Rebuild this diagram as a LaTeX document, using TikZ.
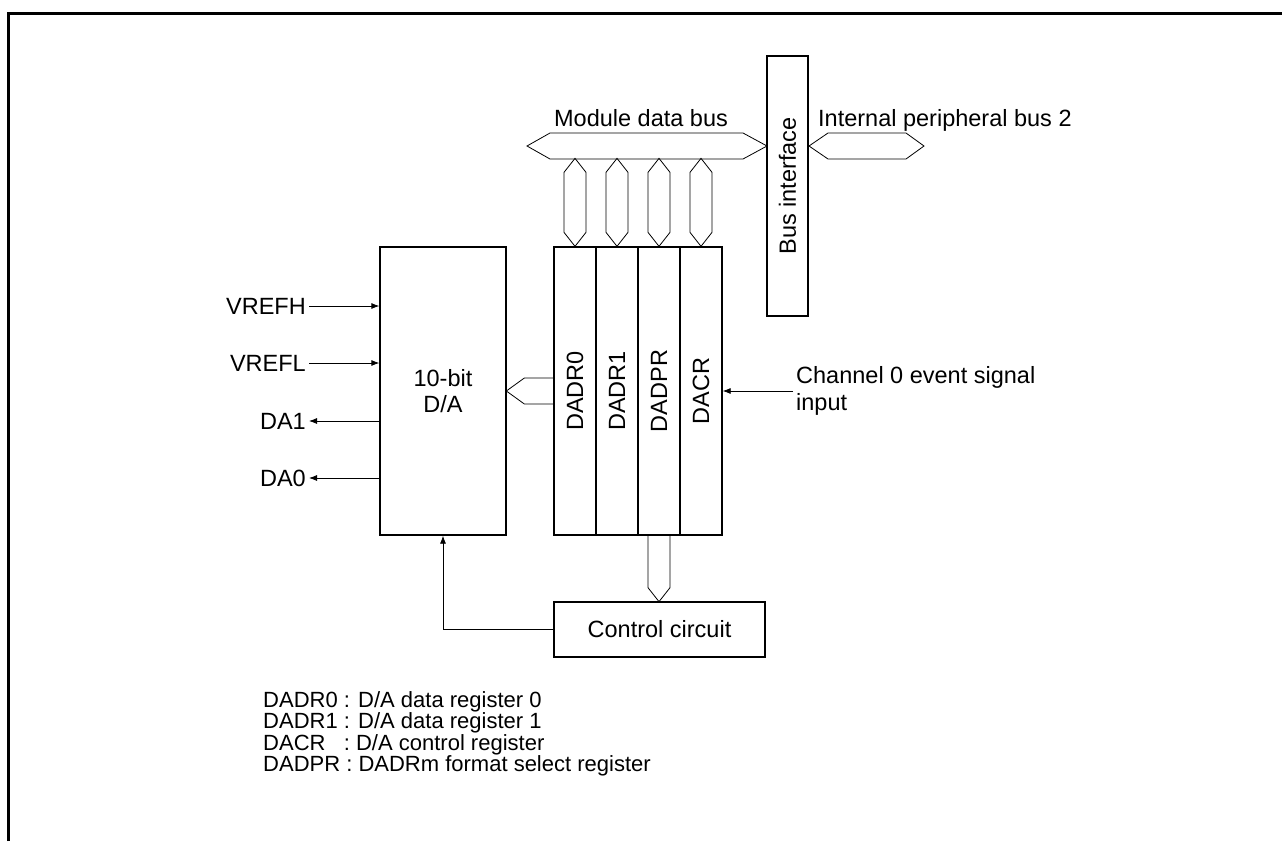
\documentclass[tikz,border=0pt]{standalone}
\usepackage{fontspec}
\setmainfont{Liberation Sans}
\usetikzlibrary{arrows.meta}

\begin{document}
\begin{tikzpicture}[x=1pt,y=-1pt,
    box/.style={draw,line width=1.3pt,inner sep=0pt,font=\fontsize{23.5}{26}\selectfont},
    bus/.style={line width=.8pt},
    sig/.style={line width=.8pt,-{Latex[length=8pt,width=6pt]}},
    lbl/.style={inner sep=3pt,font=\fontsize{23.5}{27}\selectfont}]
  \useasboundingbox (0,0) rectangle (1282,841);
  \draw[line width=3pt] (8,841) -- (8,13) -- (1282,13);

  \node[box,minimum width=126pt,minimum height=288pt,align=center] (da) at (443,391) {10-bit\\D/A};
  \foreach \reg [count=\i] in {DADR0,DADR1,DADPR,DACR}
    \node[box,minimum width=42pt,minimum height=288pt] (r\i) at (533+42*\i,391) {\rotatebox{90}{\reg}};
  \node[box,rotate=90,minimum width=260pt,minimum height=41pt] (bif) at (787.5,186) {Bus interface};
  \node[box,minimum width=211pt,minimum height=55pt] (ctrl) at (659.5,629.5) {Control circuit};

  % buses
  \draw[bus] (527,146) -- (550,133) -- (743,133) -- (767,146) -- (743,159) -- (550,159) -- cycle;
  \node[lbl] (mdb) at (641,118) {Module data bus};
  \draw[bus] (809,146) -- (828,133) -- (906,133) -- (924,146) -- (906,159) -- (828,159) -- cycle;
  \node[lbl,anchor=west] (ipb) at (815,120) {Internal peripheral bus 2};
  \foreach \i in {1,...,4}
    \draw[bus] (r\i.north) -- ++(-11,-14) -- ++(0,-60) -- ++(11,-14) -- ++(11,14) -- ++(0,60) -- cycle;
  \draw[bus] (r1.west) ++(0,-13) -- ++(-29,0) -- ++(-18,13) -- ++(18,13) -- ++(29,0);
  \draw[bus] (r3.south) ++(-11,0) -- ++(0,52) -- ++(11,14) -- ++(11,-14) -- ++(0,-52);

  % signals
  \node[lbl,anchor=east] (vh) at (309,306) {VREFH};
  \node[lbl,anchor=east] (vl) at (309,363) {VREFL};
  \node[lbl,anchor=east] (da1) at (309,421) {DA1};
  \node[lbl,anchor=east] (da0) at (309,478) {DA0};
  \draw[sig] (vh.east) -- (vh.east -| da.west);
  \draw[sig] (vl.east) -- (vl.east -| da.west);
  \draw[sig] (da1.east -| da.west) -- (da1.east);
  \draw[sig] (da0.east -| da.west) -- (da0.east);
  \node[lbl,anchor=west,align=left] (ch) at (793,391) {Channel 0 event signal\\input};
  \draw[sig] (ch.west) -- (r4.east);
  \draw[sig] (ctrl.west) -| (da.south);

  % key
  \foreach \txt [count=\k] in {{DADR0 : D/A data register 0},{DADR1 : D/A data register 1},
      {DACR\ \ \ : D/A control register},{DADPR : DADRm format select register}}
    \node[anchor=west,inner sep=0pt,font=\fontsize{22}{24}\selectfont] (key\k) at (263,680.7+21.3*\k) {\txt};
\end{tikzpicture}
\end{document}
